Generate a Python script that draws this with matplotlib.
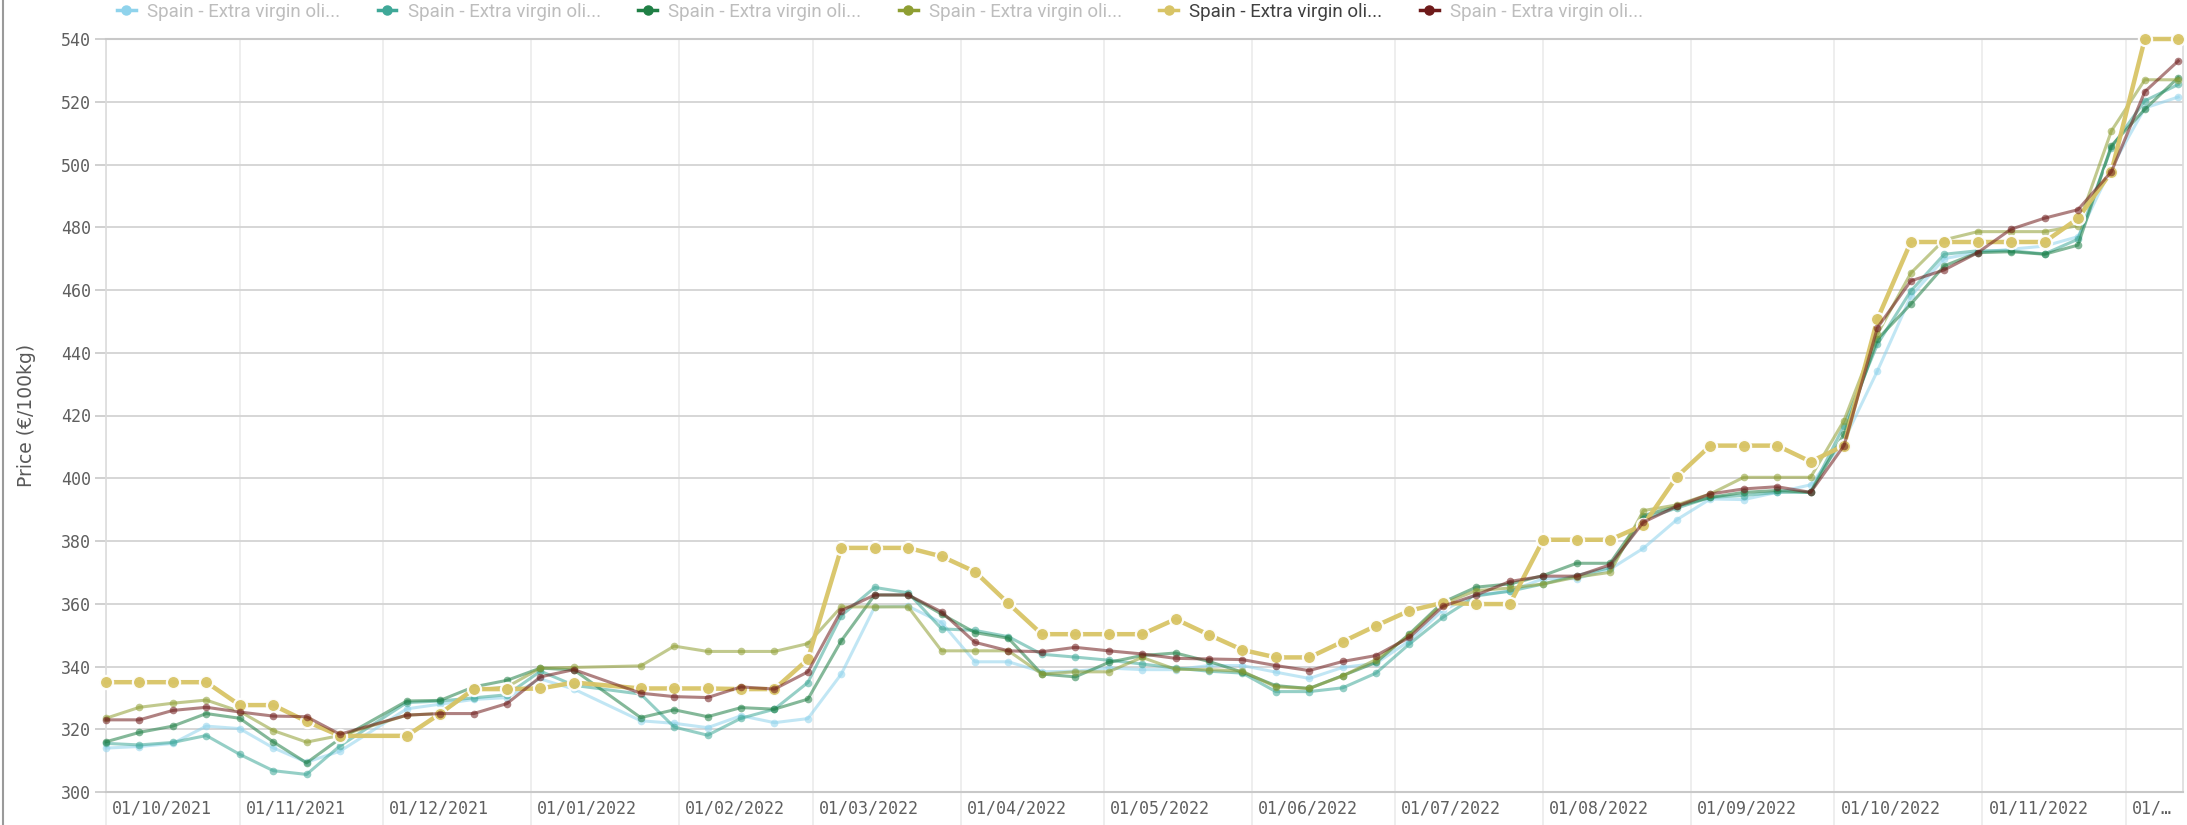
import matplotlib
matplotlib.use("Agg")
import matplotlib.pyplot as plt
import matplotlib.transforms as mtransforms
from matplotlib.lines import Line2D
import pandas as pd

# weekly prices, Spain - extra virgin olive oil (six markets), EUR/100kg
weeks = ["2021-10-04", "2021-10-11", "2021-10-18", "2021-10-25", "2021-11-01", "2021-11-08",
         "2021-11-15", "2021-11-22", "2021-12-06", "2021-12-13", "2021-12-20", "2021-12-27",
         "2022-01-03", "2022-01-10", "2022-01-24", "2022-01-31", "2022-02-07", "2022-02-14",
         "2022-02-21", "2022-02-28", "2022-03-07", "2022-03-14", "2022-03-21", "2022-03-28",
         "2022-04-04", "2022-04-11", "2022-04-18", "2022-04-25", "2022-05-02", "2022-05-09",
         "2022-05-16", "2022-05-23", "2022-05-30", "2022-06-06", "2022-06-13", "2022-06-20",
         "2022-06-27", "2022-07-04", "2022-07-11", "2022-07-18", "2022-07-25", "2022-08-01",
         "2022-08-08", "2022-08-15", "2022-08-22", "2022-08-29", "2022-09-05", "2022-09-12",
         "2022-09-19", "2022-09-26", "2022-10-03", "2022-10-10", "2022-10-17", "2022-10-24",
         "2022-10-31", "2022-11-07", "2022-11-14", "2022-11-21", "2022-11-28", "2022-12-05",
         "2022-12-12"]

light_blue = [314, 314.5, 315.5, 321, 320.2, 314.1, 309.5, 313, 326.5, 328, 329.5, 330.1,
              336, 332.8, 322.7, 321.9, 320.5, 324.3, 322.1, 323.4, 337.6, 359, 359.2, 354,
              341.5, 341.5, 338.3, 338.5, 339.5, 339, 339, 340.3, 340.3, 338.2, 336.2, 339.7,
              341, 348.2, 358, 362.8, 364, 368, 368, 371, 377.7, 386.8, 393.4, 393.2,
              395.5, 397.9, 412, 434.2, 458, 470, 472, 473, 474, 477, 499, 518, 521.5]
teal = [315.5, 315, 315.8, 318, 312, 306.8, 305.6, 314.7, 328.5, 329, 330, 331,
        338.5, 334, 331.2, 320.7, 318.1, 323.5, 326.4, 334.9, 356.2, 365.2, 363.5, 352,
        351.5, 349.5, 343.9, 343, 342, 340.8, 339.5, 338.5, 337.9, 332, 332, 333.2,
        337.9, 347.2, 355.7, 362.5, 364, 366.3, 369, 371.5, 387, 390.5, 393.9, 394.5,
        395.5, 395.5, 416.8, 442.7, 459.7, 471.4, 472.5, 472.5, 471.5, 476.2, 505.4, 520.3, 525.5]
dark_green = [316, 319, 321, 325, 323.5, 316, 309.3, 317, 329, 329.2, 333.5, 335.6,
              339.5, 338.9, 323.7, 326.2, 324, 326.9, 326.4, 329.6, 348.2, 362.8, 362.8, 356.7,
              350.8, 349, 337.6, 336.7, 341.3, 343.5, 344.3, 341.6, 338.2, 333.9, 333, 337.1,
              341.3, 350.4, 360.5, 365.3, 366.3, 369, 372.9, 372.9, 388.1, 391.1, 393.9, 395.5,
              396.1, 395.5, 414.1, 444.3, 455.5, 467.7, 471.9, 472.2, 471.4, 474.3, 506, 517.6, 527.7]
olive = [323.5, 327, 328.3, 329.3, 325.7, 319.6, 315.9, 318, 324.5, 325, 332.5, 333.5,
         339.5, 339.7, 340.2, 346.5, 344.8, 344.8, 344.8, 347.3, 359, 359, 359, 345,
         345, 345, 337.6, 338.3, 338.3, 342.9, 339.1, 339, 338.5, 333.5, 333, 337,
         342.2, 350, 360, 364.2, 365, 366.3, 368.5, 370, 389.7, 391.5, 395, 400.3,
         400.3, 400.3, 418.4, 446, 465.4, 476, 478.6, 478.6, 478.6, 480.5, 510.7, 527, 527]
gold = [335, 335, 335, 335, 327.7, 327.7, 322.5, 317.9, 317.9, 325, 332.8, 332.8,
        333, 334.9, 333, 333, 333, 332.8, 332.8, 342.3, 377.8, 377.8, 377.8, 375.1,
        370.2, 360.1, 350.3, 350.3, 350.3, 350.3, 355.1, 350.1, 345.3, 342.9, 342.9, 347.9,
        353, 357.8, 360.3, 359.9, 359.9, 380.4, 380.4, 380.4, 385.1, 400.5, 410.4, 410.4,
        410.4, 405.3, 410.4, 450.7, 475.3, 475.3, 475.3, 475.3, 475.3, 482.8, 497.7, 540, 540]
maroon = [323, 323, 326, 327, 325.5, 324.2, 324, 318.4, 324.5, 325, 325, 328.2,
          336.7, 339, 331.5, 330.4, 330.1, 333.5, 332.8, 338.3, 357.8, 362.8, 362.8, 357.4,
          347.7, 345, 344.7, 346.1, 345, 344, 342.6, 342.4, 342.2, 340.3, 338.7, 341.6,
          343.5, 349.3, 359.2, 362.8, 367.1, 368.8, 368.8, 372.4, 386, 391.1, 395, 396.6,
          397.3, 395.5, 410.4, 448, 462.9, 466.4, 471.9, 479.4, 482.9, 485.6, 497.7, 523.2, 533]

series_label = "Spain - Extra virgin oli..."
colors = ["#8fd3ec", "#3fa898", "#1f7f45", "#8e9e32", "#d8c466", "#6e1a1a"]
selected = 4  # the gold series is highlighted

month_starts = ["2021-10-01", "2021-11-01", "2021-12-01", "2022-01-01", "2022-02-01",
                "2022-03-01", "2022-04-01", "2022-05-01", "2022-06-01", "2022-07-01",
                "2022-08-01", "2022-09-01", "2022-10-01", "2022-11-01", "2022-12-01"]
month_labels = ["01/10/2021", "01/11/2021", "01/12/2021", "01/01/2022", "01/02/2022",
                "01/03/2022", "01/04/2022", "01/05/2022", "01/06/2022", "01/07/2022",
                "01/08/2022", "01/09/2022", "01/10/2022", "01/11/2022", "01/\u2026"]

W, H = 2187, 825
fig = plt.figure(figsize=(W / 100, H / 100), dpi=100)
ax = fig.add_axes([106 / W, 33 / H, 2077 / W, 753 / H])

x = pd.to_datetime(weeks)
all_series = [light_blue, teal, dark_green, olive, gold, maroon]
for k, (vals, c) in enumerate(zip(all_series, colors)):
    if k == selected:
        ax.plot(x, vals, color=c, lw=3.2, marker="o", ms=9.5, mec="white", mew=1.6,
                alpha=0.95, clip_on=False, zorder=3)
    else:
        ax.plot(x, vals, color=c, lw=2.2, marker="o", ms=5.5, mec="none",
                alpha=0.55, clip_on=False, zorder=3)

ax.set_ylim(300, 540)
ax.set_yticks(range(300, 541, 20))
left = x[0]
right = x[-1] + pd.Timedelta(days=1)
ax.set_xlim(left, right)

tick_pos = [max(pd.Timestamp(d), left) for d in month_starts]
ax.set_xticks(tick_pos)
ax.set_xticklabels(month_labels)

mono = "DejaVu Sans Mono"
ax.tick_params(axis="x", length=30, width=1.2, color="#ebebeb", pad=-24.5,
               labelsize=12, labelcolor="#5f5f5f")
ax.tick_params(axis="y", length=8, width=1.2, color="#c8c8c8", pad=3,
               labelsize=12, labelcolor="#5f5f5f")
offset = mtransforms.ScaledTranslation(6 / 100, 0, fig.dpi_scale_trans)
for lbl in ax.get_xticklabels():
    lbl.set_fontfamily(mono)
    lbl.set_ha("left")
    lbl.set_transform(lbl.get_transform() + offset)
for lbl in ax.get_yticklabels():
    lbl.set_fontfamily(mono)

ax.grid(axis="y", color="#d6d6d6", lw=1.4)
ax.grid(axis="x", color="#ebebeb", lw=1.2)
ax.set_axisbelow(True)
for side in ["left", "right"]:
    ax.spines[side].set_color("#dcdcdc")
    ax.spines[side].set_linewidth(1.2)
for side in ["top", "bottom"]:
    ax.spines[side].set_color("#c8c8c8")
    ax.spines[side].set_linewidth(1.5)

ax.set_ylabel("Price (€/100kg)", fontsize=13.5, color="#595959")
ax.yaxis.set_label_coords((36 - 106) / 2077, 0.5)

handles = [Line2D([], [], color=c, lw=2.5, marker="o", ms=6.5) for c in colors]
leg = fig.legend(handles, [series_label] * 6, ncol=6, loc="center left",
                 bbox_to_anchor=(100 / W, 1 - 12 / H), frameon=False,
                 handlelength=1.0, handletextpad=0.6, columnspacing=2.0,
                 prop={"family": ["Roboto", "DejaVu Sans"], "size": 13.5})
for k, t in enumerate(leg.get_texts()):
    t.set_color("#404040" if k == selected else "#bdbdbd")

fig.add_artist(Line2D([0.0015, 0.0015], [0, 1], transform=fig.transFigure,
                      color="#9a9a9a", lw=1.5))

fig.savefig("out.png", dpi=100)
